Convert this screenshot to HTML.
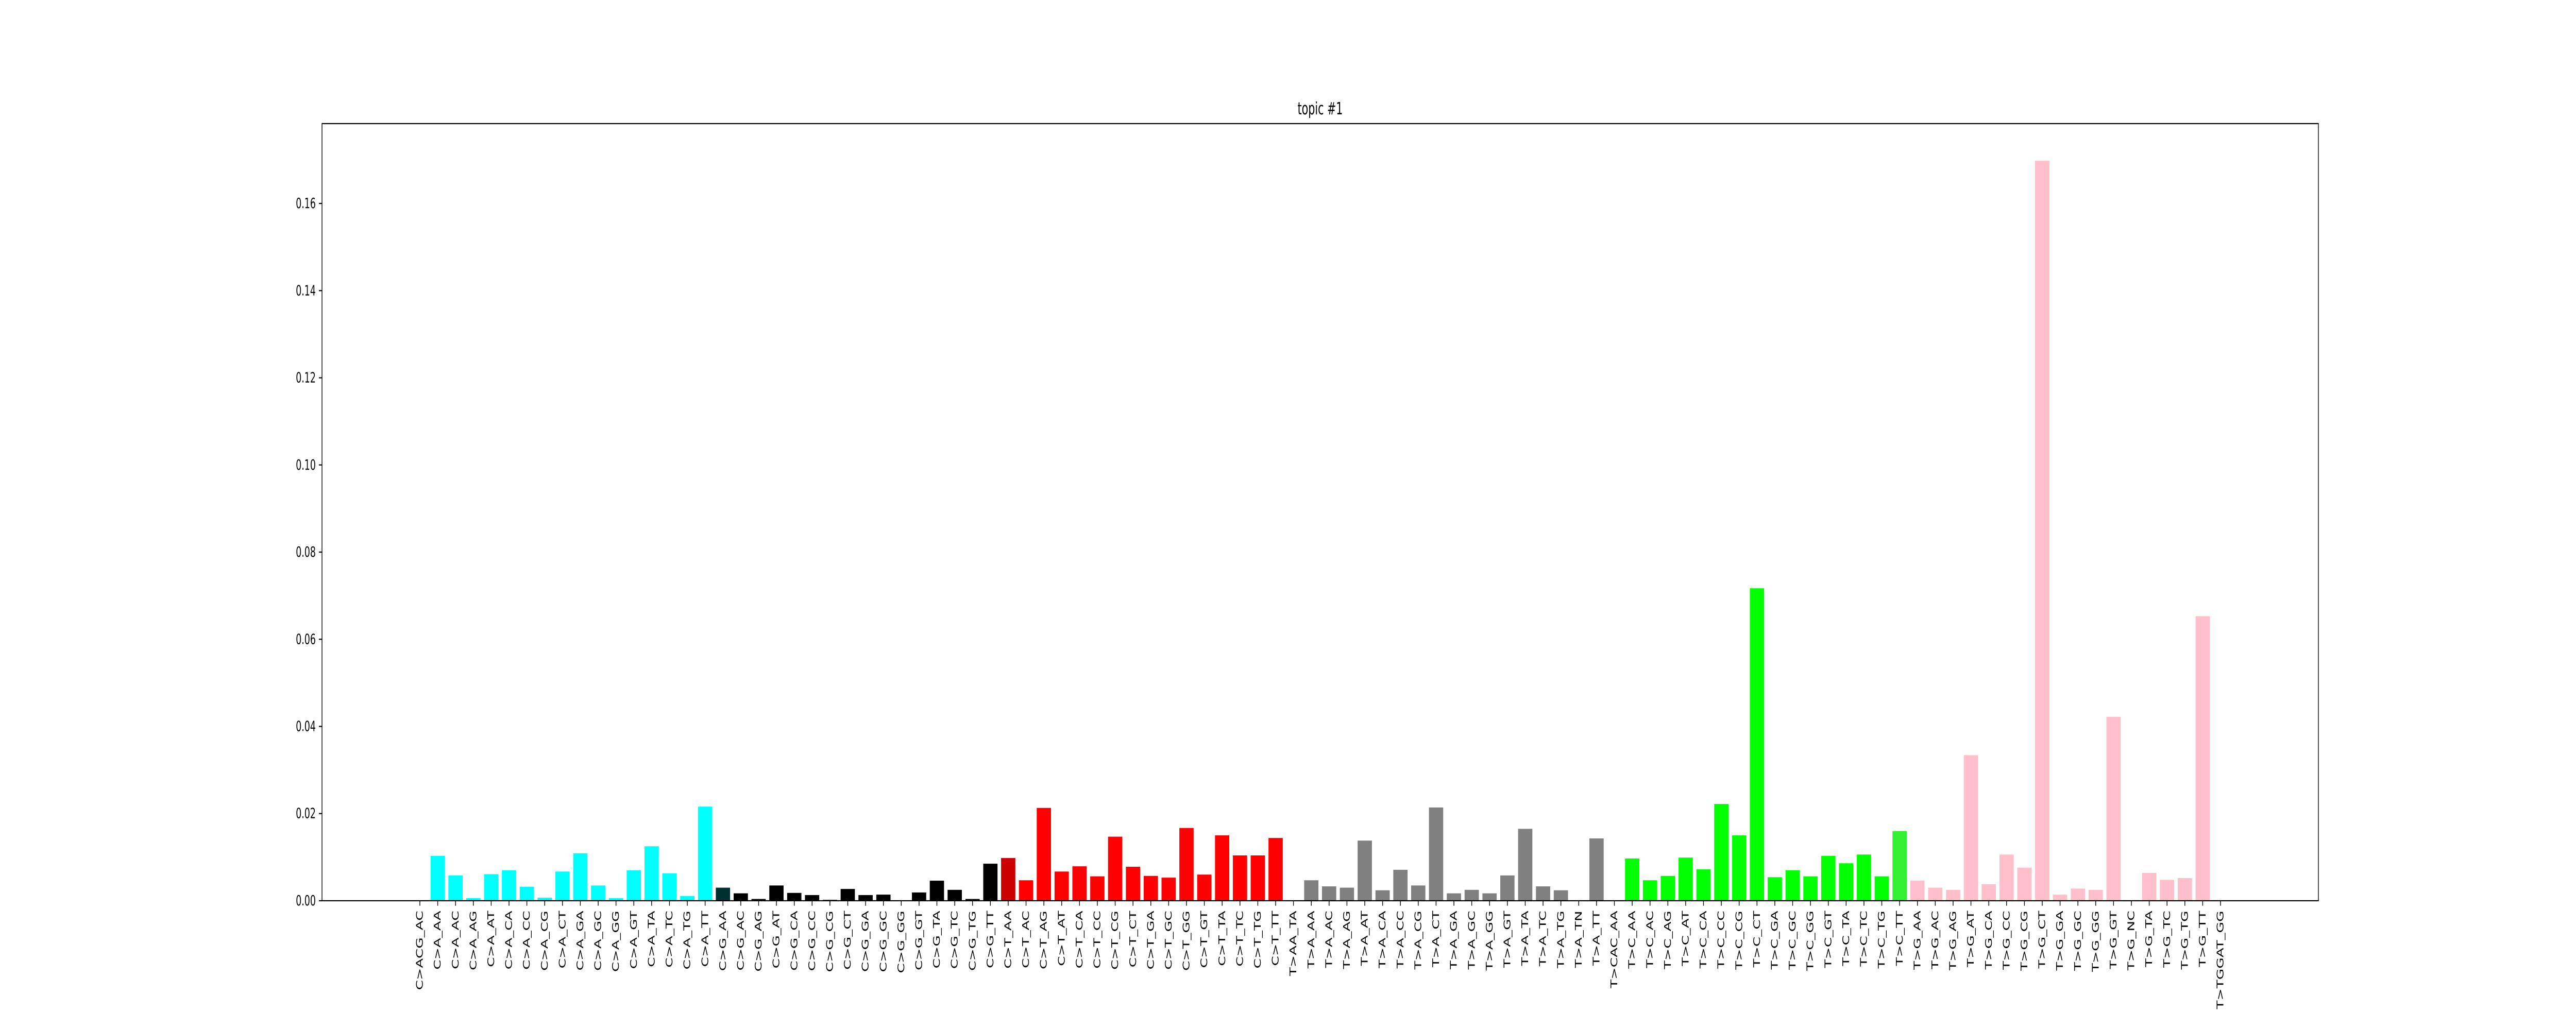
<!DOCTYPE html>
<html><head><meta charset="utf-8"><style>
html,body{margin:0;padding:0;background:#fff;overflow:hidden;width:100%;height:100%;}
svg{display:block;position:absolute;left:0;top:0;width:100vw;height:100vh;font-family:"DejaVu Sans","Liberation Sans",sans-serif;}
</style></head><body>
<svg id="chart" xmlns="http://www.w3.org/2000/svg" viewBox="0 0 8000 2000" preserveAspectRatio="none">
<rect width="8000" height="2000" fill="#fff"/>
<text x="4100" y="222" text-anchor="middle" font-size="33">topic #1</text>
<g id="bars"></g>
<g id="xticks"></g>
<g id="yticks"></g>
<rect x="1000" y="240" width="6200" height="1509" fill="none" stroke="#000" stroke-width="2.2"/>
</svg>
<script>
const categories = ["C>ACG_AC",
"C>A_AA","C>A_AC","C>A_AG","C>A_AT","C>A_CA","C>A_CC","C>A_CG","C>A_CT","C>A_GA","C>A_GC","C>A_GG","C>A_GT","C>A_TA","C>A_TC","C>A_TG","C>A_TT",
"C>G_AA","C>G_AC","C>G_AG","C>G_AT","C>G_CA","C>G_CC","C>G_CG","C>G_CT","C>G_GA","C>G_GC","C>G_GG","C>G_GT","C>G_TA","C>G_TC","C>G_TG","C>G_TT",
"C>T_AA","C>T_AC","C>T_AG","C>T_AT","C>T_CA","C>T_CC","C>T_CG","C>T_CT","C>T_GA","C>T_GC","C>T_GG","C>T_GT","C>T_TA","C>T_TC","C>T_TG","C>T_TT",
"T>AA_TA",
"T>A_AA","T>A_AC","T>A_AG","T>A_AT","T>A_CA","T>A_CC","T>A_CG","T>A_CT","T>A_GA","T>A_GC","T>A_GG","T>A_GT","T>A_TA","T>A_TC","T>A_TG","T>A_TN","T>A_TT",
"T>CAC_AA",
"T>C_AA","T>C_AC","T>C_AG","T>C_AT","T>C_CA","T>C_CC","T>C_CG","T>C_CT","T>C_GA","T>C_GC","T>C_GG","T>C_GT","T>C_TA","T>C_TC","T>C_TG","T>C_TT",
"T>G_AA","T>G_AC","T>G_AG","T>G_AT","T>G_CA","T>G_CC","T>G_CG","T>G_CT","T>G_GA","T>G_GC","T>G_GG","T>G_GT","T>G_NC","T>G_TA","T>G_TC","T>G_TG","T>G_TT",
"T>TGGAT_GG"];
const values = [0,
0.0103,0.0058,0.0006,0.0061,0.0070,0.0032,0.0007,0.0067,0.0109,0.0035,0.0006,0.0070,0.0125,0.0063,0.0011,0.0216,
0.0030,0.0017,0.0004,0.0035,0.0018,0.0013,0.0002,0.0027,0.0013,0.0014,0.0001,0.0019,0.0046,0.0025,0.0004,0.0085,
0.0098,0.0047,0.0213,0.0067,0.0079,0.0056,0.0147,0.0078,0.0057,0.0053,0.0167,0.0060,0.0150,0.0104,0.0104,0.0144,
0,
0.0047,0.0033,0.0030,0.0138,0.0024,0.0071,0.0035,0.0214,0.0017,0.0025,0.0017,0.0058,0.0165,0.0033,0.0024,0,0.0143,
0,
0.0097,0.0047,0.0057,0.0099,0.0072,0.0222,0.0150,0.0717,0.0054,0.0070,0.0056,0.0103,0.0086,0.0106,0.0056,0.0160,
0.0046,0.0030,0.0025,0.0334,0.0038,0.0106,0.0076,0.1698,0.0014,0.0028,0.0025,0.0422,0,0.0064,0.0048,0.0052,0.0653,
0];
const colors = ["#00ffff",
"#00ffff","#00ffff","#00ffff","#00ffff","#00ffff","#00ffff","#00ffff","#00ffff","#00ffff","#00ffff","#00ffff","#00ffff","#00ffff","#00ffff","#00ffff","#00ffff",
"#003030","#000000","#000000","#000000","#000000","#000000","#000000","#000000","#000000","#000000","#000000","#000000","#000000","#000000","#000000","#000000",
"#cc0000","#ff0000","#ff0000","#ff0000","#ff0000","#ff0000","#ff0000","#ff0000","#ff0000","#ff0000","#ff0000","#ff0000","#ff0000","#ff0000","#ff0000","#ff0000",
"#808080",
"#808080","#808080","#808080","#808080","#808080","#808080","#808080","#808080","#808080","#808080","#808080","#808080","#808080","#808080","#808080","#808080","#808080",
"#00ff00",
"#00ff00","#00ff00","#00ff00","#00ff00","#00ff00","#00ff00","#00ff00","#00ff00","#00ff00","#00ff00","#00ff00","#00ff00","#00ff00","#00ff00","#00ff00","#33f033",
"#ffc0cb","#ffc0cb","#ffc0cb","#ffc0cb","#ffc0cb","#ffc0cb","#ffc0cb","#ffc0cb","#ffc0cb","#ffc0cb","#ffc0cb","#ffc0cb","#ffc0cb","#ffc0cb","#ffc0cb","#ffc0cb","#ffc0cb",
"#ffc0cb"];
const yTicks = [0,0.02,0.04,0.06,0.08,0.10,0.12,0.14,0.16];
const yTickLabels = ["0.00","0.02","0.04","0.06","0.08","0.10","0.12","0.14","0.16"];

const NS = "http://www.w3.org/2000/svg";
const plotL = 1000, plotR = 7200, plotT = 240, plotB = 1749;
const xMin = -5.49, xMax = categories.length - 1 + 5.49;
const yMin = 0, yMax = (plotB - plotT) / 8462;
function xScale(i){ return plotL + (i - xMin) / (xMax - xMin) * (plotR - plotL); }
function yScale(v){ return plotB - (v - yMin) / (yMax - yMin) * (plotB - plotT); }

const barsG = document.getElementById('bars');
const xG = document.getElementById('xticks');
const yG = document.getElementById('yticks');
const bw = 0.8 * (xScale(1) - xScale(0));

categories.forEach((c, i) => {
  const cx = xScale(i);
  const top = yScale(values[i]);
  const r = document.createElementNS(NS, 'rect');
  r.setAttribute('x', cx - bw/2);
  r.setAttribute('y', top);
  r.setAttribute('width', bw);
  r.setAttribute('height', Math.max(0, plotB - top));
  r.setAttribute('fill', colors[i]);
  
  
  barsG.appendChild(r);

  const t = document.createElementNS(NS, 'line');
  t.setAttribute('x1', cx); t.setAttribute('x2', cx);
  t.setAttribute('y1', plotB); t.setAttribute('y2', plotB + 9.7);
  t.setAttribute('stroke', '#000'); t.setAttribute('stroke-width', '2.2');
  
  
  xG.appendChild(t);

  const lbl = document.createElementNS(NS, 'text');
  const ly = plotB + 19.4;
  lbl.setAttribute('x', cx);
  lbl.setAttribute('y', ly);
  lbl.setAttribute('transform', 'rotate(-90 ' + cx + ' ' + ly + ')');
  lbl.setAttribute('text-anchor', 'end');
  lbl.setAttribute('dominant-baseline', 'central');
  lbl.setAttribute('font-size', '27.8');
  lbl.textContent = c;
  
  
  xG.appendChild(lbl);
});

yTicks.forEach((v, k) => {
  const y = yScale(v);
  const t = document.createElementNS(NS, 'line');
  t.setAttribute('x1', plotL - 9.7); t.setAttribute('x2', plotL);
  t.setAttribute('y1', y); t.setAttribute('y2', y);
  t.setAttribute('stroke', '#000'); t.setAttribute('stroke-width', '2.2');
  
  
  yG.appendChild(t);
  const lbl = document.createElementNS(NS, 'text');
  lbl.setAttribute('x', plotL - 19.4);
  lbl.setAttribute('y', y);
  lbl.setAttribute('text-anchor', 'end');
  lbl.setAttribute('dominant-baseline', 'central');
  lbl.setAttribute('font-size', '27.8');
  lbl.textContent = yTickLabels[k];
  
  
  yG.appendChild(lbl);
});
</script>
</body></html>
